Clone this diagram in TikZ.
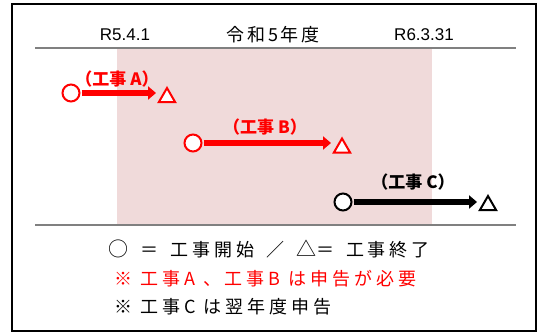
\documentclass[tikz,border=0pt]{standalone}
\usepackage{fontspec}
\usetikzlibrary{arrows.meta,shapes.geometric}
\newfontfamily\jp{Noto Sans CJK JP}
\newfontfamily\jpls{Noto Sans CJK JP}[LetterSpace=22]
\newfontfamily\jphd{Noto Sans CJK JP}[LetterSpace=15]
\newfontfamily\arial{Liberation Sans}
\definecolor{pinkbg}{RGB}{240,218,218}
\definecolor{rulegray}{RGB}{128,128,128}
\definecolor{pureRed}{RGB}{255,0,0}
\newcommand{\bigsym}[1]{{\fontsize{20}{18}\selectfont #1}}
\begin{document}
\begin{tikzpicture}[x=1pt,y=-1pt,
  startc/.style={circle,draw=#1,fill=white,line width=2pt,minimum size=17pt,inner sep=0pt},
  endt/.style={regular polygon,regular polygon sides=3,draw=#1,fill=white,line width=2pt,minimum size=19pt,inner sep=0pt},
  bar/.style={draw=#1,fill=#1,line width=6pt,-{Triangle[length=8pt,width=13pt]},shorten <=1pt,shorten >=1pt},
  tlabel/.style={text=#1,font=\jp\bfseries\fontsize{17}{17}\selectfont,inner sep=0pt},
  hdr/.style={font=\arial\fontsize{17}{17}\selectfont,inner sep=0pt},
  hdrjp/.style={font=\jphd\fontsize{18}{18}\selectfont,inner sep=0pt},
  legend/.style={anchor=west,font=\jpls\fontsize{18}{18}\selectfont,inner sep=0pt},
  rule/.style={draw=rulegray,line width=1.5pt}]
\useasboundingbox (0,0) rectangle (542,334);
% background band
\fill[pinkbg] (117,48) rectangle (432,225);
% frame
\draw[line width=2pt] (12,4) rectangle (536,331.5);
% rules
\coordinate (tl) at (35,48);
\coordinate (tr) at (516,48);
\coordinate (bl) at (35,225);
\coordinate (br) at (516,225);
\draw[rule] (tl) -- (tr);
\draw[rule] (bl) -- (br);
% header
\node[hdr] (h1) at (125,35) {R5.4.1};
\node[hdrjp] (h2) at (273,35) {令和5年度};
\node[hdr] (h3) at (424,35) {R6.3.31};
% task A
\node[startc=pureRed] (ca) at (71,93) {};
\node[endt=pureRed] (ta) at (167,97.5) {};
\draw[bar=pureRed] (ca.east) -- (ca.east -| ta.corner 2);
\node[tlabel=pureRed] (la) at (117,79) {（工事 A）};
% task B
\node[startc=pureRed] (cb) at (193,143) {};
\node[endt=pureRed] (tb) at (342,148) {};
\draw[bar=pureRed] (cb.east) -- (cb.east -| tb.corner 2);
\node[tlabel=pureRed] (lb) at (265,127) {（工事 B）};
% task C
\node[startc=black] (cc) at (343,202) {};
\node[endt=black] (tc) at (488,205.5) {};
\draw[bar=black] (cc.east) -- (cc.east -| tc.corner 2);
\node[tlabel=black] (lc) at (413,182) {（工事 C）};
% legend
\node[legend] (g1) at (108,249) {\bigsym{○}\hspace{4pt} ＝\hspace{4pt} 工事開始\hspace{4pt} ／\hspace{4pt} \bigsym{△}＝\hspace{4pt} 工事終了};
\node[legend,text=pureRed] (g2) at (114,279) {※ 工事A 、工事B は申告が必要};
\node[legend] (g3) at (114,307) {※ 工事C は翌年度申告};
\end{tikzpicture}
\end{document}
